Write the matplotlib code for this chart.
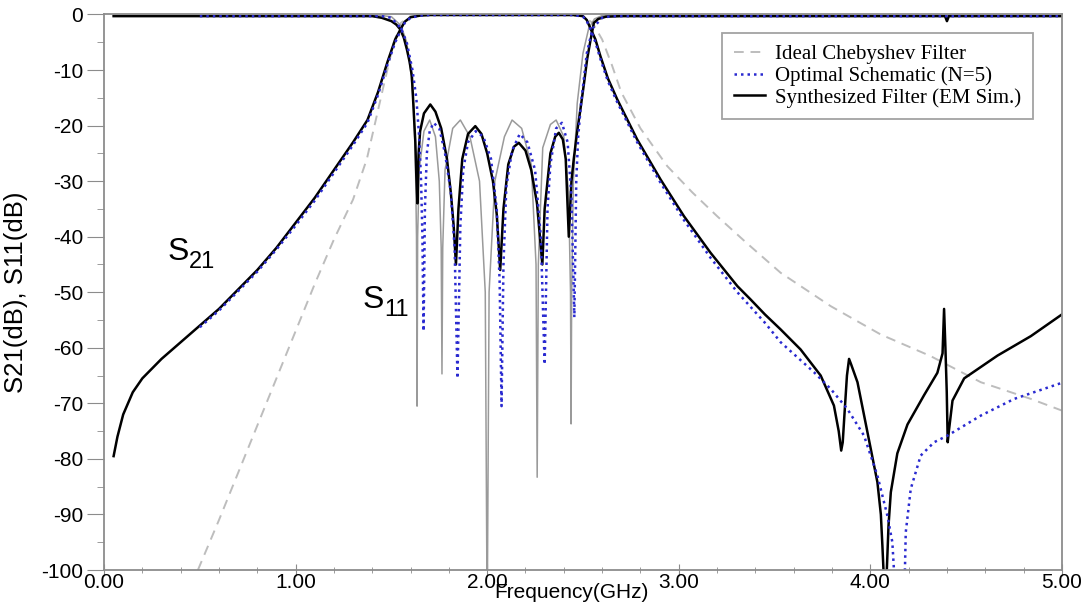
import numpy as np
import matplotlib
matplotlib.use('Agg')
import matplotlib.pyplot as plt
from matplotlib.ticker import MultipleLocator, FormatStrFormatter

# === digitized curves (frequency in GHz, level in dB) ===
# ideal Chebyshev S21 (grey dashed)
ideal_s21_f = [0.49, 0.6, 0.7, 0.8, 0.9, 1.0, 1.1, 1.2, 1.3, 1.372, 1.459, 1.512, 1.55, 1.6, 1.7,
               2.0, 2.4, 2.5, 2.55, 2.6, 2.65, 2.7, 2.8, 2.94, 3.07, 3.2, 3.35, 3.532, 3.793, 4.054,
               4.315, 4.577, 4.838, 5.0]
ideal_s21_db = [-100, -91, -82.5, -74, -65.5, -57, -48.5, -40.5, -33.3, -26, -12.9, -5.1, -1.5, -0.3, -0.1,
                -0.1, -0.1, -0.3, -1.5, -4.5, -9, -14, -20.5, -27.3, -32, -36.3, -41, -46.5, -52.5, -57.6,
                -61.5, -66.2, -69.2, -71.3]

# ideal Chebyshev S11 (thin grey)
ideal_s11_f = [0.05, 1.45, 1.5, 1.55, 1.58, 1.60, 1.615, 1.625, 1.631, 1.634, 1.637, 1.645, 1.67, 1.70,
               1.73, 1.75, 1.76, 1.764, 1.768, 1.78, 1.82, 1.86, 1.91, 1.96, 1.99, 2.0, 2.01, 2.04, 2.09,
               2.13, 2.18, 2.23, 2.255, 2.261, 2.267, 2.29, 2.33, 2.36, 2.40, 2.425, 2.435, 2.438, 2.441,
               2.45, 2.47, 2.5, 2.53, 2.56, 2.6, 5.0]
ideal_s11_db = [-0.2, -0.2, -0.4, -2, -5, -10, -16, -25, -40, -70.5, -40, -28, -21, -19, -22, -30, -42,
                -64.7, -42, -28, -20.5, -19, -22, -30, -50, -110, -50, -30, -22, -19, -20.5, -27, -45,
                -83.3, -45, -24, -19.8, -19, -22, -32, -50, -73.7, -50, -30, -16, -7, -2.5, -0.8, -0.2, -0.2]

# optimal schematic N=5 (blue dotted)
opt_s21_f = [0.5, 0.6, 0.7, 0.8, 0.9, 1.0, 1.1, 1.2, 1.3, 1.375, 1.43, 1.48, 1.52, 1.55, 1.57, 1.6, 1.65,
             1.7, 2.45, 2.5, 2.52, 2.54, 2.565, 2.591, 2.63, 2.679, 2.783, 2.905, 3.027, 3.166, 3.306,
             3.45, 3.532, 3.706, 3.793, 3.88, 3.967, 4.037, 4.089, 4.115, 4.125, 4.18, 4.185, 4.211,
             4.263, 4.333, 4.403, 4.577, 4.751, 5.0]
opt_s21_db = [-56.3, -53.3, -49.8, -46.3, -42.3, -38, -33.5, -28.5, -23.5, -19.5, -14.5, -9, -5, -2.8,
              -1.5, -0.6, -0.2, -0.1, -0.1, -0.4, -1.2, -2.7, -5, -8, -12, -15.8, -23, -30.3, -37,
              -43.8, -50, -55.5, -59, -64.4, -67.4, -71, -75.8, -83, -90.2, -95, -101, -101, -93.2,
              -85.4, -79.4, -77, -75.8, -72.2, -69.2, -66.3]
opt_s11_f = [0.5, 1.45, 1.5, 1.55, 1.58, 1.61, 1.63, 1.645, 1.655, 1.662, 1.668, 1.675, 1.685, 1.70, 1.72,
             1.75, 1.78, 1.81, 1.83, 1.845, 1.86, 1.875, 1.9, 1.94, 1.98, 2.02, 2.05, 2.065, 2.075, 2.085,
             2.1, 2.13, 2.17, 2.21, 2.25, 2.28, 2.3, 2.315, 2.33, 2.36, 2.39, 2.42, 2.44, 2.455, 2.465,
             2.475, 2.49, 2.52, 2.55, 2.6, 2.65, 5.0]
opt_s11_db = [-0.3, -0.3, -0.6, -2.5, -5, -10, -15, -22, -30, -40, -57, -35, -25, -21, -19.5, -20.5, -25,
              -32, -42, -65.5, -38, -28, -23, -21, -22, -26, -35, -48, -70.5, -45, -31, -24.5, -21.5, -23,
              -28, -40, -63, -35, -27, -20.5, -19.5, -23, -33, -54.5, -30, -22, -16, -7, -2.5, -0.6,
              -0.3, -0.3]

# synthesized filter, EM simulation (black)
em_s21_f = [0.05, 0.07, 0.1, 0.15, 0.2, 0.3, 0.4, 0.5, 0.6, 0.7, 0.8, 0.9, 1.0, 1.1, 1.2, 1.3, 1.375,
            1.43, 1.48, 1.52, 1.547, 1.57, 1.6, 1.65, 1.7, 2.45, 2.5, 2.52, 2.539, 2.565, 2.591, 2.63,
            2.679, 2.783, 2.905, 3.027, 3.166, 3.306, 3.375, 3.45, 3.532, 3.636, 3.741, 3.81, 3.835,
            3.848, 3.856, 3.865, 3.878, 3.889, 3.9, 3.933, 3.985, 4.037, 4.055, 4.063, 4.07, 4.085,
            4.095, 4.107, 4.141, 4.194, 4.281, 4.35, 4.377, 4.385, 4.392, 4.399, 4.404, 4.41, 4.429,
            4.49, 4.664, 4.838, 5.0]
em_s21_db = [-79.5, -76, -72, -68, -65.5, -62, -59, -56, -53, -49.5, -46, -42, -37.5, -33, -28, -23, -19,
             -14, -8.5, -4.5, -2.7, -1.3, -0.5, -0.2, -0.1, -0.1, -0.3, -1, -2.5, -4.5, -7.5, -11.5,
             -15.3, -22.5, -29.7, -36.3, -42.9, -48.9, -51.3, -54, -56.7, -60.3, -65, -70.4, -75, -78.5,
             -77, -72, -65, -62, -63, -66.2, -75.2, -84.2, -90, -95.6, -101, -101, -92, -86, -79,
             -73.8, -68.5, -64.5, -61, -53, -60, -68, -77, -75, -69.5, -65.5, -61.4, -57.9, -54]
em_s11_f = [0.05, 1.40, 1.45, 1.5, 1.525, 1.547, 1.565, 1.581, 1.595, 1.607, 1.616, 1.625, 1.63, 1.636,
            1.642, 1.65, 1.67, 1.703, 1.73, 1.76, 1.79, 1.81, 1.825, 1.837, 1.85, 1.87, 1.9, 1.938,
            1.97, 2.0, 2.03, 2.05, 2.068, 2.085, 2.11, 2.14, 2.165, 2.2, 2.23, 2.26, 2.288, 2.3, 2.33,
            2.355, 2.374, 2.395, 2.41, 2.426, 2.44, 2.452, 2.47, 2.487, 2.505, 2.522, 2.54, 2.557,
            2.58, 2.62, 2.7, 4.39, 4.40, 4.41, 5.0]
em_s11_db = [-0.3, -0.3, -0.6, -1.2, -1.8, -2.7, -4.2, -6.3, -8.5, -11.1, -17.1, -23, -29, -34, -25, -21,
             -17.8, -16.2, -17.5, -20.5, -26, -32, -38, -45, -35, -26, -21.5, -20.1, -21.5, -25, -30,
             -36, -46, -35, -27, -23.8, -23.1, -24.5, -28, -34, -45, -35, -25, -22, -21.3, -22.5, -26,
             -40, -30, -26, -21, -17, -12.5, -8, -4.5, -1.5, -0.8, -0.4, -0.3, -0.3, -1.2, -0.3, -0.3]

labels = ['Ideal Chebyshev Filter', 'Optimal Schematic (N=5)', 'Synthesized Filter (EM Sim.)']

plt.rcParams['font.family'] = ['Liberation Sans', 'DejaVu Sans']
plt.rcParams['axes.unicode_minus'] = False

fig = plt.figure(figsize=(10.86, 6.03), dpi=100)
ax = fig.add_axes([0.0958, 0.0547, 0.882, 0.9213])

grey = '#bdbdbd'
blue = '#2a2ad0'
h1, = ax.plot(ideal_s21_f, ideal_s21_db, color=grey, lw=1.4, dashes=(5, 3.5))
ax.plot(ideal_s11_f, ideal_s11_db, color='#9a9a9a', lw=1.1)
h3, = ax.plot(em_s21_f, em_s21_db, color='black', lw=1.8)
ax.plot(em_s11_f, em_s11_db, color='black', lw=1.8)
h2, = ax.plot(opt_s21_f, opt_s21_db, color=blue, lw=1.8, ls=(0, (1, 1.6)))
ax.plot(opt_s11_f, opt_s11_db, color=blue, lw=1.8, ls=(0, (1, 1.6)))

ax.set_xlim(0, 5)
ax.set_ylim(-100, 0)
ax.xaxis.set_major_locator(MultipleLocator(1))
ax.xaxis.set_minor_locator(MultipleLocator(0.2))
ax.xaxis.set_major_formatter(FormatStrFormatter('%.2f'))
ax.yaxis.set_major_locator(MultipleLocator(10))
ax.yaxis.set_minor_locator(MultipleLocator(5))

for s in ax.spines.values():
    s.set_color('#8c8c8c')
    s.set_linewidth(1.3)
ax.tick_params(axis='x', which='major', direction='inout', length=8, color='#8c8c8c',
               labelsize=15, pad=-2)
ax.tick_params(axis='x', which='minor', direction='inout', length=5, color='#8c8c8c')
ax.tick_params(axis='y', which='major', direction='out', length=12, color='#8c8c8c',
               labelsize=15, pad=3)
ax.tick_params(axis='y', which='minor', direction='out', length=5, color='#8c8c8c')

ax.set_xlabel('Frequency(GHz)', fontsize=15, va='bottom')
ax.xaxis.set_label_coords(0.488, -0.0575)
ax.set_ylabel('S21(dB), S11(dB)', fontsize=18.5)
ax.yaxis.set_label_coords(-0.079, 0.5)

# curve labels S21 / S11 with large subscripts
ax.text(0.33, -44.2, 'S', fontsize=23, ha='left', va='baseline')
ax.text(0.445, -45.6, '21', fontsize=17, ha='left', va='baseline')
ax.text(1.348, -52.8, 'S', fontsize=23, ha='left', va='baseline')
ax.text(1.462, -54.3, '11', fontsize=17, ha='left', va='baseline')

leg = ax.legend([h1, h2, h3], labels, loc='upper right', bbox_to_anchor=(0.9697, 0.9667),
                prop={'family': 'Liberation Serif', 'size': 15}, frameon=True, fancybox=False,
                edgecolor='#8c8c8c', handlelength=1.5, handletextpad=0.5, labelspacing=0.1,
                borderpad=0.55, borderaxespad=0)
leg.get_frame().set_linewidth(1.3)

fig.savefig('out.png', dpi=100)
